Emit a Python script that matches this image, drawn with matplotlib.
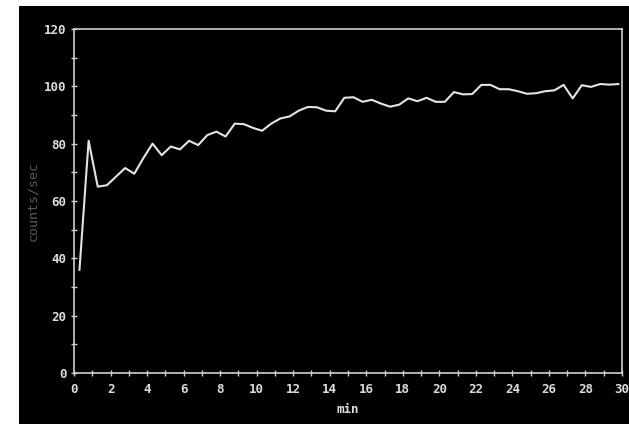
import matplotlib
matplotlib.use('Agg')
import matplotlib.pyplot as plt
from matplotlib.patches import Rectangle
from matplotlib.ticker import MultipleLocator

# time (min) and count rate
minutes = [0.3, 0.8, 1.3, 1.8, 2.3, 2.8, 3.3, 3.8, 4.3, 4.8,
           5.3, 5.8, 6.3, 6.8, 7.3, 7.8, 8.3, 8.8, 9.3, 9.8,
           10.3, 10.8, 11.3, 11.8, 12.3, 12.8, 13.3, 13.8, 14.3, 14.8,
           15.3, 15.8, 16.3, 16.8, 17.3, 17.8, 18.3, 18.8, 19.3, 19.8,
           20.3, 20.8, 21.3, 21.8, 22.3, 22.8, 23.3, 23.8, 24.3, 24.8,
           25.3, 25.8, 26.3, 26.8, 27.3, 27.8, 28.3, 28.8, 29.3, 29.8]
counts = [36, 81, 65, 65.5, 68.5, 71.5, 69.5, 75, 80, 76,
          79, 78, 81, 79.5, 83, 84.2, 82.5, 87, 86.8, 85.5,
          84.5, 87, 88.8, 89.5, 91.5, 92.8, 92.7, 91.5, 91.3, 96,
          96.2, 94.6, 95.3, 94, 92.9, 93.6, 95.8, 94.8, 96, 94.6,
          94.6, 98, 97.2, 97.3, 100.5, 100.5, 99, 99, 98.3, 97.4,
          97.6, 98.3, 98.6, 100.5, 95.8, 100.4, 99.8, 100.8, 100.6, 100.8]

fig = plt.figure(figsize=(6.29, 4.24), dpi=100)
fig.patch.set_facecolor('white')
# black screen area
fig.add_artist(Rectangle((19 / 629, 0), 1 - 19 / 629, 418 / 424,
                         transform=fig.transFigure, facecolor='black',
                         edgecolor='none', zorder=0))

ax = fig.add_axes([74 / 629, 51 / 424, 548 / 629, 344 / 424])
ax.set_facecolor('black')

ax.plot(minutes, counts, color='#e4e4e4', linewidth=1.5, clip_on=False)

ax.set_xlim(0, 30)
ax.set_ylim(0, 120)
ax.xaxis.set_major_locator(MultipleLocator(2))
ax.xaxis.set_minor_locator(MultipleLocator(1))
ax.yaxis.set_major_locator(MultipleLocator(20))
ax.yaxis.set_minor_locator(MultipleLocator(10))

for s in ax.spines.values():
    s.set_color('#cfcfcf')
    s.set_linewidth(1.2)

tick_font = dict(family='DejaVu Sans Mono', weight='bold', size=9)
ax.tick_params(which='both', direction='inout', colors='#cfcfcf', width=1)
ax.tick_params(which='major', length=5, pad=3)
ax.tick_params(which='minor', length=4)
for lab in ax.get_xticklabels() + ax.get_yticklabels():
    lab.set_fontproperties(tick_font)
    lab.set_color('#dcdcdc')
ax.tick_params(axis='x', pad=5)

ax.set_xlabel('min', color='#dcdcdc', fontfamily='DejaVu Sans Mono',
              fontweight='bold', fontsize=9, labelpad=5)
fig.text(33 / 629, 1 - 201 / 424, 'counts/sec', rotation=90, color='#5a5a5a',
         fontfamily='DejaVu Sans Mono', fontsize=9.5, ha='center', va='center')

fig.savefig('out.png', dpi=100, facecolor='white')
